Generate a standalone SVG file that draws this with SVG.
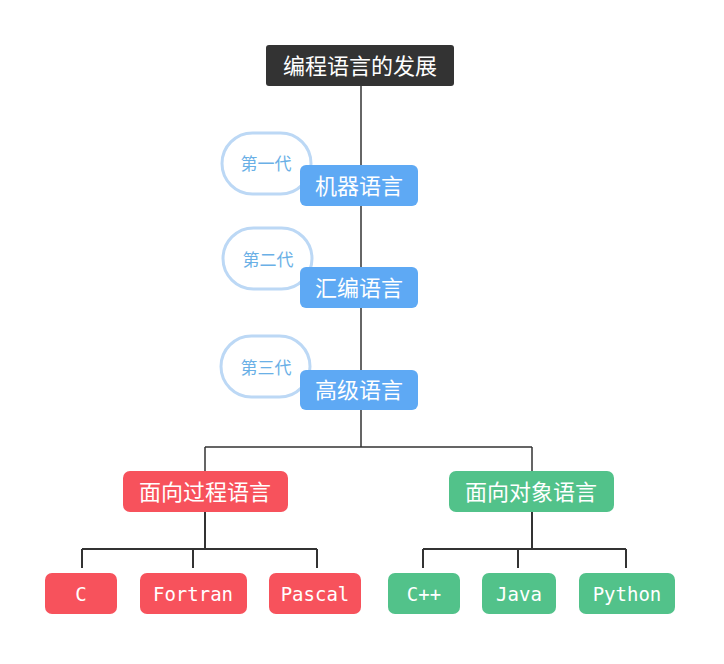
<svg xmlns="http://www.w3.org/2000/svg" width="724" height="664" viewBox="0 0 724 664">
<style>
.cn{font-family:"Noto Sans CJK SC","Noto Sans",sans-serif;fill:#fff;text-anchor:middle;dominant-baseline:central;font-size:22px}
.mono{font-family:"DejaVu Sans Mono","Liberation Mono",monospace;font-size:19px;fill:#fff;text-anchor:middle;dominant-baseline:central}
.bub{fill:#fff;stroke:#bcd8f5;stroke-width:3}
.bt{font-family:"Noto Sans CJK SC",sans-serif;font-size:17px;fill:#6ab0e6;text-anchor:middle;dominant-baseline:central}
.ln{fill:none;stroke:#333;stroke-width:1.5}
.ln2{fill:none;stroke:#333;stroke-width:2}
.blue{fill:#5ea9f4}
.red{fill:#f7525c}
.green{fill:#52c28a}
</style>
<rect width="724" height="664" fill="#fff"/>
<g id="connectors">
<path class="ln" d="M361 86V410"/>
<path class="ln" d="M361 410V447M205 447H532M205 447V471M532 447V471"/>
<path class="ln2" d="M205 512V549M82 549H317M82 549V568M193 549V568M317 549V568"/>
<path class="ln2" d="M532 512V549M423 549H626M423 549V568M518 549V568M626 549V568"/>
</g>
<g id="root"><rect x="266" y="45" width="188" height="41" rx="3" fill="#333"/><text class="cn" x="360" y="64">编程语言的发展</text></g>
<g id="gen1"><rect class="bub" x="222" y="133" width="89" height="61" rx="30.5"/><text class="bt" x="266" y="162">第一代</text></g>
<g id="machine"><rect class="blue" x="300" y="165" width="118" height="41" rx="6"/><text class="cn" x="359" y="184">机器语言</text></g>
<g id="gen2"><rect class="bub" x="223" y="228" width="89" height="61" rx="30.5"/><text class="bt" x="268" y="258">第二代</text></g>
<g id="assembly"><rect class="blue" x="300" y="267" width="118" height="41" rx="6"/><text class="cn" x="359" y="286">汇编语言</text></g>
<g id="gen3"><rect class="bub" x="221" y="336" width="89" height="61" rx="30.5"/><text class="bt" x="266" y="366">第三代</text></g>
<g id="highlevel"><rect class="blue" x="300" y="370" width="118" height="40" rx="6"/><text class="cn" x="359" y="388">高级语言</text></g>
<g id="procedural"><rect class="red" x="123" y="471" width="165" height="41" rx="7"/><text class="cn" x="205" y="490">面向过程语言</text></g>
<g id="oop"><rect class="green" x="449" y="471" width="165" height="41" rx="7"/><text class="cn" x="531" y="490">面向对象语言</text></g>
<g id="c"><rect class="red" x="45" y="573" width="72" height="41" rx="7"/><text class="mono" x="81" y="594">C</text></g>
<g id="fortran"><rect class="red" x="140" y="573" width="107" height="41" rx="7"/><text class="mono" x="193" y="594">Fortran</text></g>
<g id="pascal"><rect class="red" x="269" y="573" width="92" height="41" rx="7"/><text class="mono" x="315" y="594">Pascal</text></g>
<g id="cpp"><rect class="green" x="388" y="573" width="72" height="41" rx="7"/><text class="mono" x="424" y="594">C++</text></g>
<g id="java"><rect class="green" x="482" y="573" width="74" height="41" rx="7"/><text class="mono" x="519" y="594">Java</text></g>
<g id="python"><rect class="green" x="579" y="573" width="96" height="41" rx="7"/><text class="mono" x="627" y="594">Python</text></g>
</svg>
